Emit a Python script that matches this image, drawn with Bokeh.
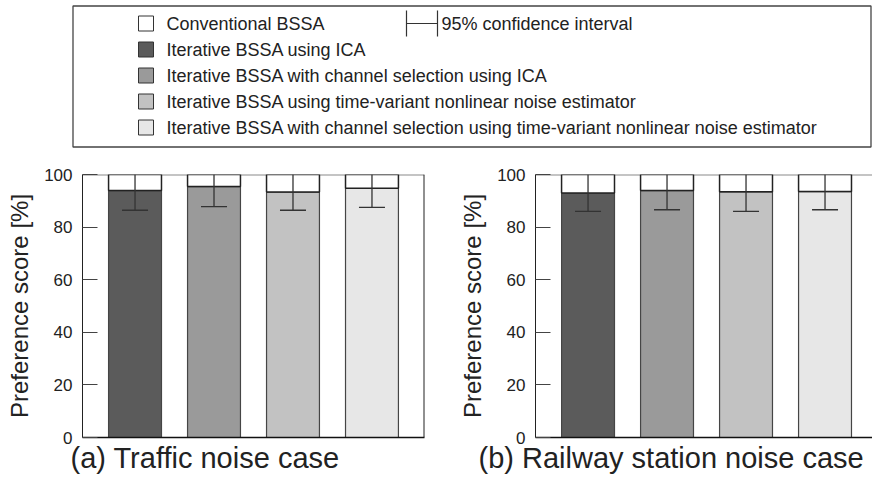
from bokeh.plotting import figure
from bokeh.models import Range1d, Span, Whisker, TeeHead, ColumnDataSource, Title
from bokeh.layouts import column, row
from bokeh.embed import file_html
from bokeh.resources import INLINE
from bokeh.core.properties import value

# ---------------- data ----------------
baseline_label = "Conventional BSSA"
ci_label = "95% confidence interval"
methods = [
    "Iterative BSSA using ICA",
    "Iterative BSSA with channel selection using ICA",
    "Iterative BSSA using time-variant nonlinear noise estimator",
    "Iterative BSSA with channel selection using time-variant nonlinear noise estimator",
]
colors = ["#5b5b5b", "#9a9a9a", "#c2c2c2", "#e7e7e7"]
positions = [1, 2, 3, 4]
traffic_scores = [93.9, 95.4, 93.3, 94.8]
traffic_ci_low = [86.4, 87.8, 86.4, 87.5]
railway_scores = [93.0, 93.9, 93.4, 93.5]
railway_ci_low = [86.0, 86.6, 86.0, 86.6]
ci_high = [100, 100, 100, 100]
total = [100, 100, 100, 100]
y_ticks = [0, 20, 40, 60, 80, 100]
captions = ["(a) Traffic noise case", "(b) Railway station noise case"]
y_title = "Preference score [%]"

FONT = "Liberation Sans"


def panel(scores, ci_low, caption, min_left, min_right, x_end, cap_offset, right_border):
    p = figure(width=436, height=328, output_backend="svg", toolbar_location=None,
               x_range=Range1d(0.335, x_end), y_range=Range1d(0, 100),
               min_border_left=min_left, min_border_right=min_right,
               min_border_top=24, min_border_bottom=41)
    p.background_fill_color = "white"
    p.border_fill_color = "white"
    p.outline_line_color = None
    p.grid.visible = False

    p.add_layout(Span(location=100, dimension="width", line_color="#8a8a8a",
                      line_width=2, level="underlay"))
    if right_border:
        p.add_layout(Span(location=x_end, dimension="height", line_color="#222222",
                          line_width=2))

    src = ColumnDataSource(dict(x=positions, top=scores, total=total,
                                color=colors, lower=ci_low, upper=ci_high))
    p.vbar(x="x", width=0.67, bottom=0, top="top", fill_color="color",
           line_color="#454545", line_width=1.2, source=src)
    p.vbar(x="x", width=0.67, bottom="top", top="total", fill_color="white",
           line_color="#222222", line_width=1.5, source=src)

    w = Whisker(base="x", upper="upper", lower="lower", source=src,
                upper_head=None,
                lower_head=TeeHead(size=26, line_color="#333333", line_width=1.3),
                line_color="#333333", line_width=1.3, level="annotation")
    p.add_layout(w)

    ya = p.yaxis[0]
    ya.ticker = y_ticks
    ya.major_tick_in = 15
    ya.major_tick_out = 0
    ya.minor_tick_line_color = None
    ya.major_tick_line_color = "#444444"
    ya.axis_line_color = "#222222"
    ya.major_label_standoff = 10
    ya.major_label_text_font = FONT
    ya.major_label_text_font_size = "17px"
    ya.major_label_text_color = "#222222"
    ya.axis_label = y_title
    ya.axis_label_text_font = FONT
    ya.axis_label_text_font_size = "24px"
    ya.axis_label_text_font_style = "normal"
    ya.axis_label_text_color = "#222222"
    ya.axis_label_standoff = 8

    xa = p.xaxis[0]
    xa.ticker = []
    xa.major_label_text_font_size = "0px"
    xa.major_tick_line_color = None
    xa.minor_tick_line_color = None
    xa.axis_line_color = "#111111"
    xa.axis_line_width = 1.3

    p.add_layout(Title(text=caption, align="left", offset=cap_offset,
                       text_font=FONT, text_font_size="29px",
                       text_font_style="normal", text_color="#222222",
                       standoff=4), "below")
    return p


pa = panel(traffic_scores, traffic_ci_low, captions[0], 82, 12, 4.665, -12, True)
pb = panel(railway_scores, railway_ci_low, captions[1], 99, 0, 4.601, -57, False)

# ---------------- legend ----------------
lg = figure(width=872, height=150, output_backend="svg", toolbar_location=None,
            x_range=Range1d(0, 872), y_range=Range1d(150, 0),
            x_axis_type=None, y_axis_type=None,
            min_border_left=0, min_border_right=0, min_border_top=0, min_border_bottom=0)
lg.outline_line_color = None
lg.grid.visible = False
lg.background_fill_color = "white"
lg.border_fill_color = "white"

lg.quad(left=[72.5], right=[870.5], top=[5.5], bottom=[146.5], fill_color=None,
        line_color="#444444", line_width=1.3)

labels = [baseline_label] + methods
fills = ["white"] + colors
row_y = [23 + 26 * i for i in range(len(labels))]
lg.quad(left=[138] * len(labels), right=[153] * len(labels),
        top=[y - 7.5 for y in row_y], bottom=[y + 7.5 for y in row_y],
        fill_color=fills, line_color="#333333", line_width=1)
lg.text(x=[166] * len(labels), y=row_y, text=labels, text_baseline="middle",
        text_font=value(FONT), text_font_size="18px", text_color="#222222")

# confidence interval symbol
cy = row_y[0]
lg.segment(x0=[406, 437, 406], y0=[cy - 13, cy - 13, cy], x1=[406, 437, 437],
           y1=[cy + 13, cy + 13, cy], line_color="#333333", line_width=1.2)
lg.text(x=[441], y=[cy], text=[ci_label], text_baseline="middle",
        text_font=value(FONT), text_font_size="18px", text_color="#222222")

layout = column(lg, row(pa, pb))
open("out.html", "w").write(file_html(layout, INLINE))
